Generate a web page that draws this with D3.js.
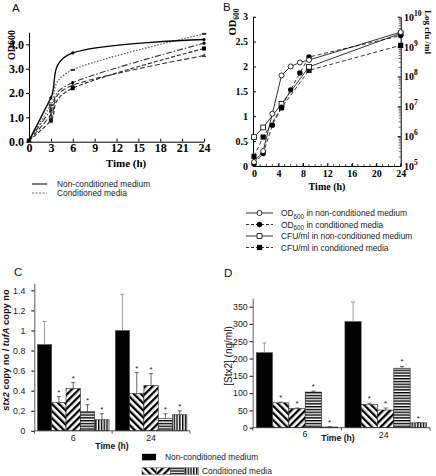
<!DOCTYPE html>
<html><head><meta charset="utf-8">
<script src="https://cdn.jsdelivr.net/npm/d3@7"></script>
<style>body{margin:0;background:#fff}svg{display:block}</style>
</head><body>
<svg id="c" width="436" height="476"></svg>
<script>
// ---------- DATA ----------
// Panel A: OD600 over time
const aTimes = [0, 3, 6, 24];
const aNonCond = [0.05, 1.8, 3.65, 4.2];
const aCond1 = [0.05, 1.5, 2.95, 4.43];
const aCond2 = [0.05, 1.3, 2.43, 4.05];
const aCond3 = [0.05, 0.88, 2.2, 3.83];
const aCond4 = [0.05, 1.1, 2.32, 3.54];
const aCondErr = [0.1, 0.12, 0.1, 0.12]; // at t = 3
const aXTicks = [0, 3, 6, 9, 12, 15, 18, 21, 24];
const aYTicks = [0, 1, 2, 3, 4];

// Panel B: OD600 and CFU/ml
const bOdTimes = [0, 1.5, 3, 4.5, 6, 7.5, 9, 24];
const bOdNon = [0.08, 0.3, 1.05, 1.82, 2.0, 2.08, 2.13, 2.69];
const bOdCond = [0.04, 0.25, 0.82, 1.18, 1.53, 1.87, 2.19, 2.62];
const bCfuTimes = [0, 1.5, 4.5, 9, 24];
const bCfuNon = [9.3e5, 1.95e6, 1.2e7, 2.1e8, 2.75e9];
const bCfuCond = [2.1e5, 9.3e5, 8.9e6, 1.6e8, 1.1e9];
const bXTicks = [0, 4, 8, 12, 16, 20, 24];
const bYTicks = [0, 0.5, 1, 1.5, 2, 2.5, 3];
const bLogTicks = [5, 6, 7, 8, 9, 10];

// Panel C: stx2 / tufA copy number
const groups = ["6", "24"];
const cNon = [0.86, 1.0];
const cNonErr = [0.23, 0.36];
const cCond = [[0.28, 0.42, 0.19, 0.11], [0.37, 0.45, 0.12, 0.16]];
const cCondErr = [[0.06, 0.06, 0.07, 0.06], [0.21, 0.12, 0.05, 0.04]];
const cYTicks = [0, 0.2, 0.4, 0.6, 0.8, 1, 1.2, 1.4];

// Panel D: [Stx2] ng/ml
const dNon = [217, 307];
const dNonErr = [28, 57];
const dCond = [[72, 55, 103, 2], [67, 51, 172, 14]];
const dCondErr = [[2, 2, 3, 1], [4, 6, 5, 1]];
const dYTicks = [0, 50, 100, 150, 200, 250, 300, 350];

// ---------- SETUP ----------
const SERIF = "'Liberation Serif','Times New Roman',serif";
const SANS = "'Liberation Sans',Arial,sans-serif";
const svg = d3.select("#c");
svg.append("rect").attr("width", 436).attr("height", 476).attr("fill", "#fff");
const defs = svg.append("defs");
function stripes(id, angle, period, thick) {
  const p = defs.append("pattern").attr("id", id).attr("patternUnits", "userSpaceOnUse")
    .attr("width", period).attr("height", period).attr("patternTransform", `rotate(${angle})`);
  p.append("rect").attr("width", period).attr("height", period).attr("fill", "#fff");
  p.append("rect").attr("width", thick).attr("height", period).attr("fill", "#000");
}
stripes("hBack", -45, 5, 2.3);
stripes("hFwd", 45, 5, 2.3);
stripes("hHor", 90, 2.8, 1.4);
stripes("hVer", 0, 2.8, 1.4);
const condFills = ["url(#hBack)", "url(#hFwd)", "url(#hHor)", "url(#hVer)"];

function styleAxis(g, font, size, weight, color) {
  g.select(".domain").attr("stroke", "#000").attr("stroke-width", 1);
  g.selectAll(".tick line").attr("stroke", "#000");
  g.selectAll(".tick text").attr("font-family", font).attr("font-size", size)
    .attr("font-weight", weight).attr("fill", color || "#000");
}

// panel letters
[["A", 12, 12], ["B", 223, 11], ["C", 14, 276], ["D", 224, 277]].forEach(([t, x, y]) => {
  svg.append("text").attr("x", x).attr("y", y).text(t)
    .attr("font-family", SANS).attr("font-size", 11.5).attr("fill", "#111");
});

// ---------- PANEL A ----------
const xA = d3.scaleLinear().domain([0, 24]).range([29, 204]);
const yA = d3.scaleLinear().domain([0, 4.5]).range([141.7, 32.2]);
svg.append("g").attr("transform", "translate(0,141.7)")
  .call(d3.axisBottom(xA).tickValues(aXTicks).tickSize(-3).tickPadding(2).tickSizeOuter(0))
  .call(g => styleAxis(g, SERIF, 12, "bold"));
svg.append("g").attr("transform", "translate(29,0)")
  .call(d3.axisLeft(yA).tickValues(aYTicks).tickSize(3).tickPadding(2).tickSizeOuter(0))
  .call(g => styleAxis(g, SERIF, 12, "bold"));
svg.append("text").attr("x", 126).attr("y", 167).attr("text-anchor", "middle")
  .attr("font-family", SERIF).attr("font-size", 11).attr("font-weight", "bold").text("Time (h)");
svg.append("text").attr("transform", "translate(15,45) rotate(-90)").attr("text-anchor", "middle")
  .attr("font-family", SERIF).attr("font-size", 10).attr("font-weight", "bold").text("OD600");

const aSeries = [
  { v: aCond4, dash: "5,2.5", col: "#333", w: 1.1, mk: "tri" },
  { v: aCond3, dash: "4,2", col: "#222", w: 1.1, mk: "sq" },
  { v: aCond2, dash: "6,2,1.5,2", col: "#333", w: 1.1, mk: "dot" },
  { v: aCond1, dash: "1.5,1.6", col: "#555", w: 1.2, mk: "dash" },
  { v: aNonCond, dash: null, col: "#000", w: 1.3, mk: "dot" }
];
const lineA = d3.line().x((d, i) => xA(aTimes[i])).y(d => yA(d)).curve(d3.curveCardinal.tension(0));
aSeries.forEach(s => {
  svg.append("path").attr("d", lineA(s.v)).attr("fill", "none").attr("stroke", s.col)
    .attr("stroke-width", s.w).attr("stroke-dasharray", s.dash);
  s.v.forEach((d, i) => {
    const x = xA(aTimes[i]), y = yA(d);
    if (s.mk === "sq") svg.append("rect").attr("x", x - 2).attr("y", y - 2).attr("width", 4).attr("height", 4).attr("fill", "#000");
    else if (s.mk === "tri") svg.append("path").attr("d", `M${x - 2.2},${y + 1.5}L${x + 2.2},${y + 1.5}L${x},${y - 2}Z`).attr("fill", "#333");
    else if (s.mk === "dash") svg.append("rect").attr("x", x - 2.2).attr("y", y - 1).attr("width", 4.4).attr("height", 2).attr("fill", "#333");
    else svg.append("circle").attr("cx", x).attr("cy", y).attr("r", 1.6).attr("fill", "#000");
  });
});
[aCond1, aCond2, aCond3, aCond4].forEach((s, k) => {
  const x = xA(3) + (k - 1.5) * 0.6, y0 = yA(s[1] - aCondErr[k]), y1 = yA(s[1] + aCondErr[k]);
  svg.append("path").attr("d", `M${x},${y0}V${y1}M${x - 1.5},${y0}H${x + 1.5}M${x - 1.5},${y1}H${x + 1.5}`)
    .attr("stroke", "#333").attr("stroke-width", 0.8).attr("fill", "none");
});
// legend A
const legA = [["Non-conditioned medium", null, "#000", 184], ["Conditioned media", "2,1.5", "#666", 193]];
legA.forEach(([t, dash, col, y]) => {
  svg.append("line").attr("x1", 32).attr("x2", 47).attr("y1", y).attr("y2", y)
    .attr("stroke", col).attr("stroke-width", 1).attr("stroke-dasharray", dash);
  svg.append("text").attr("x", 57).attr("y", y + 3).text(t)
    .attr("font-family", SANS).attr("font-size", 8.4).attr("fill", "#222");
});

// ---------- PANEL B ----------
const xB = d3.scaleLinear().domain([0, 24]).range([254, 400.7]);
const yBL = d3.scaleLinear().domain([0, 3]).range([166, 16.7]);
const yBR = d3.scaleLog().domain([1e5, 1e10]).range([166, 16.7]);
svg.append("g").attr("transform", "translate(0,166)")
  .call(d3.axisBottom(xB).tickValues(bXTicks).tickSize(-3).tickPadding(4).tickSizeOuter(0))
  .call(g => styleAxis(g, SERIF, 10, "bold"));
// minor x ticks
svg.append("g").selectAll("line").data(d3.range(0, 25)).join("line")
  .attr("x1", d => xB(d)).attr("x2", d => xB(d)).attr("y1", 166).attr("y2", 164)
  .attr("stroke", "#000").attr("stroke-width", 0.7);
svg.append("g").attr("transform", "translate(253,0)")
  .call(d3.axisLeft(yBL).tickValues(bYTicks).tickSize(-3).tickPadding(5).tickSizeOuter(0)
    .tickFormat(d => String(d)))
  .call(g => styleAxis(g, SERIF, 10, "bold"));
const gR = svg.append("g").attr("transform", "translate(400.7,0)")
  .call(d3.axisRight(yBR).tickValues(bLogTicks.map(e => Math.pow(10, e))).tickSize(-3).tickSizeOuter(0).tickFormat(""));
styleAxis(gR, SERIF, 10, "bold");
const minorLog = [];
for (let e = 5; e < 10; e++) for (let m = 2; m <= 9; m++) minorLog.push(m * Math.pow(10, e));
svg.append("g").selectAll("line").data(minorLog).join("line")
  .attr("x1", 400.7).attr("x2", 398.7).attr("y1", d => yBR(d)).attr("y2", d => yBR(d))
  .attr("stroke", "#000").attr("stroke-width", 0.6);
bLogTicks.forEach(e => {
  const t = svg.append("text").attr("x", 404).attr("y", yBR(Math.pow(10, e)) + 4)
    .attr("font-family", SERIF).attr("font-size", 10).attr("font-weight", "bold");
  t.append("tspan").text("10");
  t.append("tspan").attr("dy", -5).attr("font-size", 7.5).text(String(e));
});
svg.append("text").attr("x", 327).attr("y", 190).attr("text-anchor", "middle")
  .attr("font-family", SERIF).attr("font-size", 10).attr("font-weight", "bold").text("Time (h)");
{
  const t = svg.append("text").attr("transform", "translate(236,22) rotate(-90)").attr("text-anchor", "middle")
    .attr("font-family", SERIF).attr("font-size", 10.5).attr("font-weight", "bold");
  t.append("tspan").text("OD");
  t.append("tspan").attr("dy", 3).attr("font-size", 7.5).text("600");
}
svg.append("text").attr("transform", "translate(425,32) rotate(90)").attr("text-anchor", "middle")
  .attr("font-family", SERIF).attr("font-size", 9).attr("font-weight", "bold").text("Log cfu /ml");

const lineBL = d3.line().x((d, i) => xB(bOdTimes[i])).y(d => yBL(d));
const lineBR = d3.line().x((d, i) => xB(bCfuTimes[i])).y(d => yBR(d));
const bSeries = [
  { path: lineBR(bCfuCond), dash: "4,2.5", pts: bCfuCond.map((d, i) => [xB(bCfuTimes[i]), yBR(d)]), mk: "sqF" },
  { path: lineBR(bCfuNon), dash: null, pts: bCfuNon.map((d, i) => [xB(bCfuTimes[i]), yBR(d)]), mk: "sqO" },
  { path: lineBL(bOdCond), dash: "4,2.5", pts: bOdCond.map((d, i) => [xB(bOdTimes[i]), yBL(d)]), mk: "cF" },
  { path: lineBL(bOdNon), dash: null, pts: bOdNon.map((d, i) => [xB(bOdTimes[i]), yBL(d)]), mk: "cO" }
];
function marker(g, mk, x, y) {
  if (mk === "sqF") g.append("rect").attr("x", x - 2.6).attr("y", y - 2.6).attr("width", 5.2).attr("height", 5.2).attr("fill", "#000");
  if (mk === "sqO") g.append("rect").attr("x", x - 2.4).attr("y", y - 2.4).attr("width", 4.8).attr("height", 4.8).attr("fill", "#fff").attr("stroke", "#000").attr("stroke-width", 0.8);
  if (mk === "cF") g.append("circle").attr("cx", x).attr("cy", y).attr("r", 2.7).attr("fill", "#000");
  if (mk === "cO") g.append("circle").attr("cx", x).attr("cy", y).attr("r", 2.5).attr("fill", "#fff").attr("stroke", "#000").attr("stroke-width", 0.8);
}
bSeries.forEach(s => {
  svg.append("path").attr("d", s.path).attr("fill", "none").attr("stroke", "#000")
    .attr("stroke-width", 0.8).attr("stroke-dasharray", s.dash);
});
bSeries.forEach(s => s.pts.forEach(([x, y]) => marker(svg, s.mk, x, y)));
// legend B
const legB = [
  ["OD", "600", " in non-conditioned medium", null, "cO", 213],
  ["OD", "600", " in conditioned media", "3,2", "cF", 224.5],
  ["CFU/ml in non-conditioned medium", "", "", null, "sqO", 236],
  ["CFU/ml in conditioned media", "", "", "3,2", "sqF", 247.5]
];
legB.forEach(([a, sub, b, dash, mk, y]) => {
  svg.append("line").attr("x1", 246).attr("x2", 273).attr("y1", y).attr("y2", y)
    .attr("stroke", "#000").attr("stroke-width", 0.8).attr("stroke-dasharray", dash);
  marker(svg, mk, 259.5, y);
  const t = svg.append("text").attr("x", 281).attr("y", y + 3)
    .attr("font-family", SANS).attr("font-size", 8.4).attr("fill", "#222");
  t.append("tspan").text(a);
  if (sub) {
    t.append("tspan").attr("dy", 2.5).attr("font-size", 6.3).text(sub);
    t.append("tspan").attr("dy", -2.5).text(b);
  }
});

// ---------- BAR PANELS ----------
function barPanel(o) {
  const x0 = d3.scaleBand().domain(groups).range([o.x0, o.x1]).paddingInner(0.08).paddingOuter(0.04);
  const x1 = d3.scaleBand().domain(d3.range(5)).range([0, x0.bandwidth()]);
  const y = d3.scaleLinear().domain([0, o.ymax]).range([o.y0, o.ytop]);
  const g = svg.append("g");
  groups.forEach((grp, gi) => {
    const vals = [o.non[gi], ...o.cond[gi]];
    const errs = [o.nonErr[gi], ...o.condErr[gi]];
    vals.forEach((v, k) => {
      const bx = x0(grp) + x1(k), bw = x1.bandwidth();
      g.append("rect").attr("x", bx).attr("y", y(v)).attr("width", bw).attr("height", o.y0 - y(v))
        .attr("fill", k === 0 ? "#000" : condFills[k - 1])
        .attr("stroke", k === 0 ? "#555" : "#222").attr("stroke-width", 0.6);
      const cx = bx + bw / 2, ye = y(v + errs[k]);
      g.append("path").attr("d", `M${cx},${y(v)}V${ye}M${cx - 2},${ye}H${cx + 2}`)
        .attr("stroke", k === 0 ? "#888" : "#444").attr("stroke-width", 0.8).attr("fill", "none");
      if (k > 0) g.append("text").attr("x", cx).attr("y", ye - 2).attr("text-anchor", "middle")
        .attr("font-family", SANS).attr("font-size", 8).attr("fill", "#222").text("*");
    });
  });
  // axes
  const ya = svg.append("g").attr("transform", `translate(${o.x0},0)`)
    .call(d3.axisLeft(y).tickValues(o.ticks).tickSize(3).tickPadding(o.pad).tickSizeOuter(0).tickFormat(d => String(d)));
  styleAxis(ya, SANS, 8.8, "normal", "#222");
  ya.select(".domain").attr("stroke", "#333").attr("stroke-width", 0.8);
  svg.append("line").attr("x1", o.x0).attr("x2", o.x1).attr("y1", o.y0).attr("y2", o.y0)
    .attr("stroke", "#333").attr("stroke-width", 0.8);
  [o.x0, (o.x0 + o.x1) / 2, o.x1].forEach(tx => svg.append("line").attr("x1", tx).attr("x2", tx)
    .attr("y1", o.y0).attr("y2", o.y0 + 3).attr("stroke", "#333").attr("stroke-width", 0.8));
  groups.forEach((grp, gi) => {
    svg.append("text").attr("x", x0(grp) + x0.bandwidth() / 2 + o.labDx[gi]).attr("y", o.labY[gi])
      .attr("text-anchor", "middle").attr("font-family", SANS).attr("font-size", 8.8).attr("fill", "#222").text(grp);
  });
  svg.append("text").attr("x", o.timeX).attr("y", o.timeY).attr("text-anchor", "middle")
    .attr("font-family", SANS).attr("font-size", 8.6).attr("font-weight", "bold").attr("fill", "#111").text("Time (h)");
}

barPanel({ x0: 34.3, x1: 190, y0: 430.8, ytop: 283.3, ymax: 1.47, non: cNon, nonErr: cNonErr,
  cond: cCond, condErr: cCondErr, ticks: cYTicks, pad: 6, labDx: [0, 0], labY: [441, 441], timeX: 112, timeY: 449 });
barPanel({ x0: 252.7, x1: 430, y0: 427.7, ytop: 298, ymax: 375, non: dNon, nonErr: dNonErr,
  cond: dCond, condErr: dCondErr, ticks: dYTicks, pad: 2, labDx: [8, -2], labY: [437, 438], timeX: 338, timeY: 441 });

// C y label
{
  const t = svg.append("text").attr("transform", "translate(9,350) rotate(-90)").attr("text-anchor", "middle")
    .attr("font-family", SANS).attr("font-size", 9.3).attr("font-weight", "bold").attr("fill", "#111");
  t.append("tspan").attr("font-style", "italic").text("stx2");
  t.append("tspan").text(" copy no / ");
  t.append("tspan").attr("font-style", "italic").text("tufA");
  t.append("tspan").text(" copy no");
}
svg.append("text").attr("transform", "translate(232,356) rotate(-90)").attr("text-anchor", "middle")
  .attr("font-family", SANS).attr("font-size", 10).attr("fill", "#111").text("[Stx2] (ng/ml)");

// legend C/D
svg.append("rect").attr("x", 142).attr("y", 453.8).attr("width", 14).attr("height", 6.5).attr("fill", "#000");
svg.append("text").attr("x", 165).attr("y", 460).attr("font-family", SANS).attr("font-size", 8.4)
  .attr("fill", "#222").text("Non-conditioned medium");
condFills.forEach((f, k) => {
  svg.append("rect").attr("x", 142 + k * 14.2).attr("y", 467.8).attr("width", 14.2).attr("height", 6.5)
    .attr("fill", f).attr("stroke", "#333").attr("stroke-width", 0.4);
});
svg.append("text").attr("x", 202).attr("y", 474).attr("font-family", SANS).attr("font-size", 8.4)
  .attr("fill", "#222").text("Conditioned media");
</script>
</body></html>
